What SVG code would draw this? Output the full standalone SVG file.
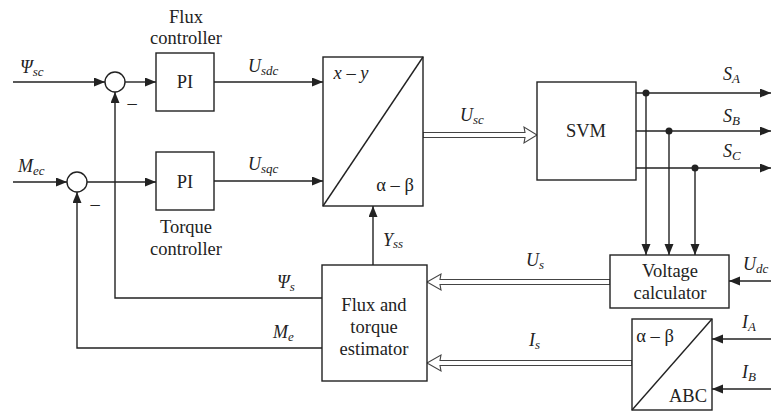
<svg xmlns="http://www.w3.org/2000/svg" width="771" height="412" viewBox="0 0 771 412">
<style>
.b{fill:#fff;stroke:#222;stroke-width:1.4}
.l{fill:none;stroke:#222;stroke-width:1.4}
.h{fill:#fff;stroke:#444;stroke-width:1.1}
.t{font-family:"Liberation Serif",serif;font-size:18.5px;fill:#222;text-anchor:middle}
.v{font-family:"Liberation Serif",serif;font-size:18px;fill:#222;font-style:italic}
.s{font-size:13px}
</style>
<defs>
<marker id="a" markerUnits="userSpaceOnUse" markerWidth="12" markerHeight="10" refX="11" refY="4.5" orient="auto">
<path d="M0,0 L11,4.5 L0,9 z" fill="#222"/>
</marker>
</defs>
<rect width="771" height="412" fill="#fff"/>

<g id="connectors">
<line class="l" x1="13" y1="82" x2="105" y2="82" marker-end="url(#a)"/>
<line class="l" x1="125" y1="82" x2="156" y2="82" marker-end="url(#a)"/>
<line class="l" x1="13" y1="182" x2="67" y2="182" marker-end="url(#a)"/>
<line class="l" x1="87" y1="182" x2="156" y2="182" marker-end="url(#a)"/>
<line class="l" x1="214" y1="82" x2="323" y2="82" marker-end="url(#a)"/>
<line class="l" x1="214" y1="181" x2="323" y2="181" marker-end="url(#a)"/>
<polyline class="l" points="322,298 115,298 115,92" marker-end="url(#a)"/>
<polyline class="l" points="322,348 77,348 77,192" marker-end="url(#a)"/>
<line class="l" x1="373" y1="265" x2="373" y2="206" marker-end="url(#a)"/>
<polygon class="h" points="423,132.5 525,132.5 524,127 537,135 524,143 525,137.5 423,137.5"/>
<line class="l" x1="636" y1="93" x2="771" y2="93" marker-end="url(#a)"/>
<line class="l" x1="636" y1="131" x2="771" y2="131" marker-end="url(#a)"/>
<line class="l" x1="636" y1="168" x2="771" y2="168" marker-end="url(#a)"/>
<line class="l" x1="646" y1="93" x2="646" y2="255" marker-end="url(#a)"/>
<line class="l" x1="669" y1="131" x2="669" y2="255" marker-end="url(#a)"/>
<line class="l" x1="695" y1="168" x2="695" y2="255" marker-end="url(#a)"/>
<circle cx="646" cy="93" r="3.5" fill="#222"/>
<circle cx="669" cy="131" r="3.5" fill="#222"/>
<circle cx="695" cy="168" r="3.5" fill="#222"/>
<line class="l" x1="771" y1="281" x2="729" y2="281" marker-end="url(#a)"/>
<line class="l" x1="771" y1="339" x2="712" y2="339" marker-end="url(#a)"/>
<line class="l" x1="771" y1="389" x2="712" y2="389" marker-end="url(#a)"/>
<polygon class="h" points="610,279.5 440,279.5 441,274 427,282 441,290 440,284.5 610,284.5"/>
<polygon class="h" points="632,360.5 440,360.5 441,355 427,363 441,371 440,365.5 632,365.5"/>
</g>

<g id="sum1"><circle class="b" cx="115" cy="82" r="10"/><text class="t" x="132" y="109">–</text></g>
<g id="sum2"><circle class="b" cx="77" cy="182" r="10"/><text class="t" x="95" y="210">–</text></g>

<g id="flux-pi">
<rect class="b" x="156" y="53" width="58" height="58"/>
<text class="t" x="185" y="88">PI</text>
<text class="t" x="186" y="23">Flux</text>
<text class="t" x="186" y="44">controller</text>
</g>
<g id="torque-pi">
<rect class="b" x="156" y="152" width="58" height="58"/>
<text class="t" x="185" y="188">PI</text>
<text class="t" x="186" y="233">Torque</text>
<text class="t" x="186" y="255">controller</text>
</g>
<g id="xy-ab">
<rect class="b" x="323" y="57" width="100" height="149"/>
<line class="l" x1="323" y1="206" x2="423" y2="57"/>
<text class="t" x="351" y="79"><tspan font-style="italic">x</tspan> – <tspan font-style="italic">y</tspan></text>
<text class="t" x="395" y="191">α – β</text>
</g>
<g id="svm">
<rect class="b" x="537" y="82" width="99" height="98"/>
<text class="t" x="586" y="137">SVM</text>
</g>
<g id="estimator">
<rect class="b" x="322" y="265" width="105" height="116"/>
<text class="t" x="374" y="311">Flux and</text>
<text class="t" x="374" y="333">torque</text>
<text class="t" x="374" y="355">estimator</text>
</g>
<g id="voltage-calc">
<rect class="b" x="610" y="255" width="119" height="53"/>
<text class="t" x="670" y="277">Voltage</text>
<text class="t" x="670" y="299">calculator</text>
</g>
<g id="abc-ab">
<rect class="b" x="632" y="319" width="80" height="91"/>
<line class="l" x1="632" y1="410" x2="712" y2="319"/>
<text class="t" x="655" y="342">α – β</text>
<text class="t" x="688" y="402">ABC</text>
</g>

<g id="labels">
<text class="v" x="20" y="73">Ψ<tspan class="s" dy="3">sc</tspan></text>
<text class="v" x="18" y="172">M<tspan class="s" dy="3">ec</tspan></text>
<text class="v" x="248" y="72">U<tspan class="s" dy="3">sdc</tspan></text>
<text class="v" x="248" y="170">U<tspan class="s" dy="3">sqc</tspan></text>
<text class="v" x="383" y="246" font-style="normal">Υ<tspan class="s" dy="2" font-style="italic">ss</tspan></text>
<text class="v" x="460" y="121">U<tspan class="s" dy="3">sc</tspan></text>
<text class="v" x="723" y="80">S<tspan class="s" dy="3">A</tspan></text>
<text class="v" x="723" y="122">S<tspan class="s" dy="3">B</tspan></text>
<text class="v" x="723" y="157">S<tspan class="s" dy="3">C</tspan></text>
<text class="v" x="277" y="288">Ψ<tspan class="s" dy="3">s</tspan></text>
<text class="v" x="273" y="338">M<tspan class="s" dy="3">e</tspan></text>
<text class="v" x="526" y="266">U<tspan class="s" dy="3">s</tspan></text>
<text class="v" x="529" y="346">I<tspan class="s" dy="3">s</tspan></text>
<text class="v" x="743" y="270">U<tspan class="s" dy="3">dc</tspan></text>
<text class="v" x="742" y="328">I<tspan class="s" dy="3">A</tspan></text>
<text class="v" x="742" y="378">I<tspan class="s" dy="3">B</tspan></text>
</g>
</svg>
